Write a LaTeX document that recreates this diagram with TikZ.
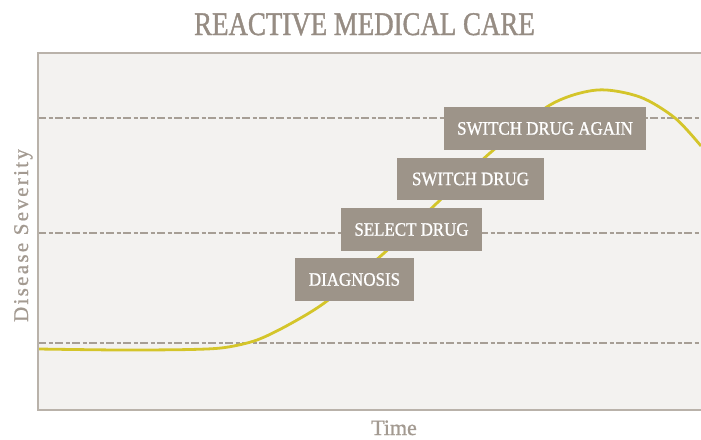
\documentclass[tikz,border=0pt]{standalone}
\usepackage{fontspec}
\setmainfont{Liberation Serif}
\newfontfamily\titlefont[FakeStretch=0.815,FakeBold=1.2]{Liberation Serif}
\newfontfamily\boxfont[FakeStretch=0.89,FakeBold=1.0]{Liberation Serif}
\newfontfamily\labfont[LetterSpace=11,FakeBold=0.8]{Liberation Serif}
\newfontfamily\timefont[FakeBold=0.8]{Liberation Serif}
\definecolor{titlec}{HTML}{968C83}
\definecolor{boxc}{HTML}{9D9489}
\definecolor{framec}{HTML}{B9B2AA}
\definecolor{plotbg}{HTML}{F3F2F0}
\definecolor{dashc}{HTML}{A69E95}
\definecolor{curvec}{HTML}{D4C52A}
\definecolor{labc}{HTML}{A39A91}
\tikzset{
  stepbox/.style={fill=boxc, text=white, inner sep=0pt, font=\boxfont\fontsize{19}{21}\selectfont},
  gridline/.style={draw=dashc, line width=1.8pt, dash pattern=on 8pt off 2.5pt on 4pt off 2.5pt},
  framel/.style={draw=framec, line width=2pt},
  axislab/.style={text=labc, font=\labfont\fontsize{21}{24}\selectfont, inner sep=0pt},
}
\begin{document}
\begin{tikzpicture}[x=1pt,y=-1pt]
\useasboundingbox (0,0) rectangle (701,439);
\fill[white] (0,0) rectangle (701,439);
% plot area
\fill[plotbg] (38,53) rectangle (701,410);
% grid lines
\coordinate (g1l) at (38,118); \coordinate (g1r) at (701,118);
\coordinate (g2l) at (38,233); \coordinate (g2r) at (701,233);
\coordinate (g3l) at (38,343); \coordinate (g3r) at (701,343);
\draw[gridline] (g1l) -- (g1r);
\draw[gridline] (g2l) -- (g2r);
\draw[gridline] (g3l) -- (g3r);
% curve
\draw[curvec, line width=2.8pt] plot[smooth, tension=0.5] coordinates {
 (38,349) (120,350) (190,349.5) (225,347.5) (257,340) (290,324) (327,301) (383,254) (437,203)
 (490,153) (550,105) (597,90) (640,97) (675,118) (701,146)};
% boxes
\node[stepbox, minimum width=119pt, minimum height=43pt] (diag) at (354.5,279.5) {DIAGNOSIS};
\node[stepbox, minimum width=141pt, minimum height=43pt] (sel) at (411.5,229.5) {SELECT DRUG};
\node[stepbox, minimum width=147pt, minimum height=42pt] (sw) at (470.5,179) {SWITCH DRUG};
\node[stepbox, minimum width=202pt, minimum height=43pt] (swa) at (545,128.5) {SWITCH DRUG AGAIN};
% frame
\coordinate (ftr) at (701,53); \coordinate (ftl) at (38,53);
\coordinate (fbl) at (38,410); \coordinate (fbr) at (701,410);
\draw[framel] (ftr) -- (ftl) -- (fbl) -- (fbr);
% texts
\node[anchor=base, text=titlec, inner sep=0pt, font=\titlefont\fontsize{33}{36}\selectfont] (title) at (364.5,35) {REACTIVE MEDICAL CARE};
\node[anchor=base, text=labc, inner sep=0pt, font=\timefont\fontsize{22}{24}\selectfont] (time) at (394,435) {Time};
\node[axislab, anchor=base, rotate=90] (sev) at (28,235.5) {Disease Severity};
\end{tikzpicture}
\end{document}
